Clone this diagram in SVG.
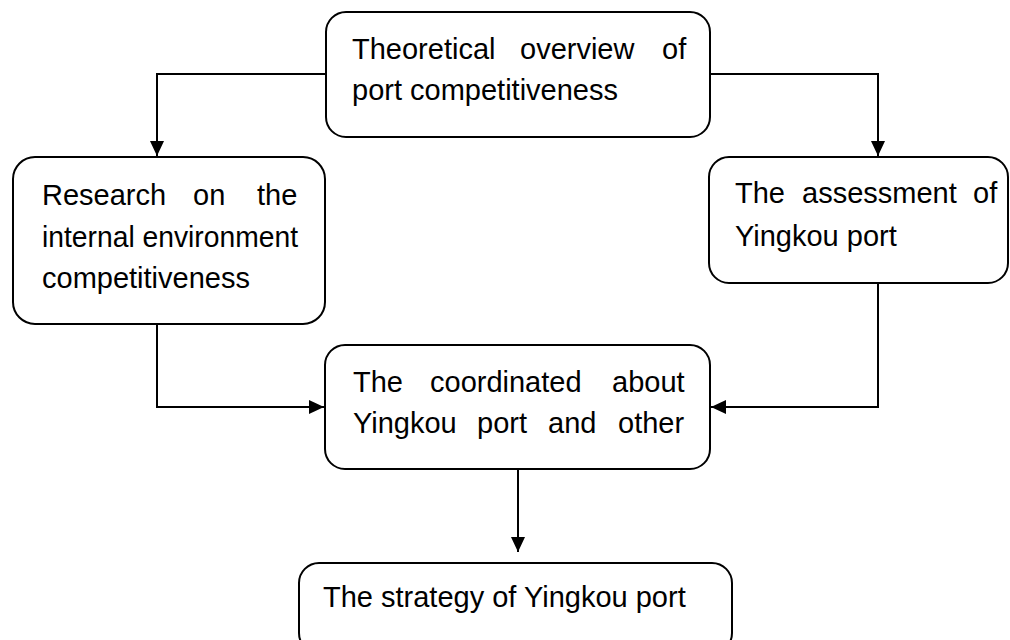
<svg xmlns="http://www.w3.org/2000/svg" width="1010" height="640" viewBox="0 0 1010 640">
<style>
.box{fill:#fff;stroke:#000;stroke-width:2}
.t{font-family:"Liberation Sans",Arial,sans-serif;font-size:29px;fill:#000}
.c{fill:none;stroke:#000;stroke-width:2}
</style>
<defs>
<marker id="ah" markerWidth="16" markerHeight="14" refX="15" refY="7" orient="auto" markerUnits="userSpaceOnUse">
<path d="M0,0 L15,7 L0,14 Z" fill="#000"/>
</marker>
</defs>
<rect width="1010" height="640" fill="#fff"/>
<g id="connectors">
<path class="c" d="M326,74 H157 V156" marker-end="url(#ah)"/>
<path class="c" d="M710,74 H878 V156" marker-end="url(#ah)"/>
<path class="c" d="M157,324 V407 H324" marker-end="url(#ah)"/>
<path class="c" d="M878,283 V407 H711" marker-end="url(#ah)"/>
<path class="c" d="M518,469 V552" marker-end="url(#ah)"/>
</g>
<g id="n1">
<rect class="box" x="326" y="12" width="384" height="125" rx="20"/>
<text class="t" y="59"><tspan x="352">Theoretical</tspan><tspan x="520">overview</tspan><tspan x="662">of</tspan></text>
<text class="t" x="352" y="100">port competitiveness</text>
</g>
<g id="n2">
<rect class="box" x="13" y="157" width="312" height="167" rx="22"/>
<text class="t" y="205"><tspan x="42">Research</tspan><tspan x="193">on</tspan><tspan x="257">the</tspan></text>
<text class="t" y="247" textLength="256" lengthAdjust="spacingAndGlyphs" x="42">internal environment</text>
<text class="t" x="42" y="288">competitiveness</text>
</g>
<g id="n3">
<rect class="box" x="709" y="157" width="299" height="126" rx="20"/>
<text class="t" y="203"><tspan x="735">The</tspan><tspan x="802">assessment</tspan><tspan x="973">of</tspan></text>
<text class="t" x="735" y="246">Yingkou port</text>
</g>
<g id="n4">
<rect class="box" x="325" y="345" width="385" height="124" rx="20"/>
<text class="t" y="392"><tspan x="353">The</tspan><tspan x="430">coordinated</tspan><tspan x="612">about</tspan></text>
<text class="t" y="433"><tspan x="353">Yingkou</tspan><tspan x="477">port</tspan><tspan x="548">and</tspan><tspan x="618">other</tspan></text>
</g>
<g id="n5">
<rect class="box" x="299" y="563" width="433" height="90" rx="20"/>
<text class="t" x="323" y="607">The strategy of Yingkou port</text>
</g>
</svg>
